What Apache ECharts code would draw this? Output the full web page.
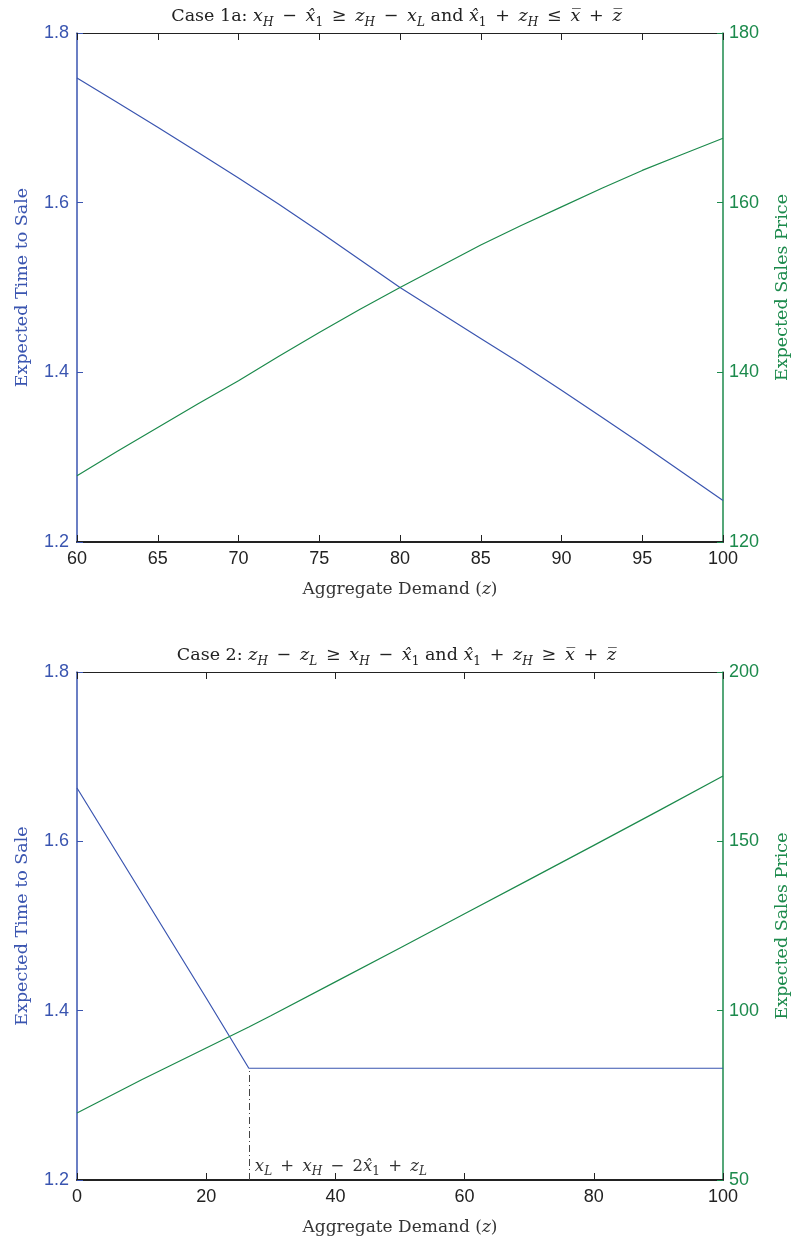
<!DOCTYPE html>
<html>
<head>
<meta charset="utf-8">
<script src="https://cdn.jsdelivr.net/npm/echarts@6/dist/echarts.min.js"></script>
<style>
  html, body { margin: 0; padding: 0; background: #fff; overflow: hidden; }
  #chart { width: 793px; height: 1243px; }
</style>
</head>
<body>
<div id="chart"></div>
<script>
// Case 1a: demand range 60..100
const case1Demand = [60, 62.5, 65, 67.5, 70, 72.5, 75, 77.5, 80, 82.5, 85, 87.5, 90, 92.5, 95, 97.5, 100];
const case1Time   = [1.747, 1.718, 1.689, 1.659, 1.629, 1.598, 1.566, 1.533, 1.500, 1.470, 1.440, 1.410, 1.379, 1.347, 1.315, 1.282, 1.249];
const case1Price  = [127.8, 130.7, 133.5, 136.3, 139.0, 141.9, 144.7, 147.4, 150.0, 152.5, 155.0, 157.3, 159.5, 161.7, 163.8, 165.7, 167.6];

// Case 2: demand range 0..100, time to sale flattens past the threshold
const case2Demand = [0, 10, 20, 26.6, 30, 40, 50, 60, 70, 80, 90, 100];
const case2Time   = [1.663, 1.539, 1.415, 1.332, 1.332, 1.332, 1.332, 1.332, 1.332, 1.332, 1.332, 1.332];
const case2Price  = [69.8, 79.6, 89.0, 95.2, 98.5, 108.5, 118.5, 128.6, 138.7, 148.8, 159.0, 169.3];
const case2Threshold = 26.6;

const BLUE = '#3a55b0';
const GREEN = '#1c8a4c';
const SERIF = '"DejaVu Serif", "Liberation Serif", serif';
const SANS = '"Liberation Sans", Arial, sans-serif';

const pairs = (xs, ys) => xs.map((x, i) => [x, ys[i]]);

function mathStyles(size, color) {
  const sub = Math.round(size * 0.7);
  return {
    r: { fontFamily: SERIF, fontSize: size, fontWeight: 'normal', color, lineHeight: size + 6 },
    i: { fontFamily: SERIF, fontSize: size, fontWeight: 'normal', fontStyle: 'italic', color, lineHeight: size + 6 },
    s: { fontFamily: SERIF, fontSize: sub, fontWeight: 'normal', fontStyle: 'italic', color, verticalAlign: 'bottom', lineHeight: sub + 3 },
    n: { fontFamily: SERIF, fontSize: sub, fontWeight: 'normal', color, verticalAlign: 'bottom', lineHeight: sub + 3 }
  };
}

// en spaces give operators roughly the width of typeset math spacing
const sp = '\u2002';
const op = o => `{r|${sp}${o}${sp}}`;
const title1 = '{r|Case 1a: }{i|x}{s|H}' + op('−') + '{i|x\u0302}{n|1}' + op('≥') + '{i|z}{s|H}' + op('−') + '{i|x}{s|L}{r| and }{i|x\u0302}{n|1}' + op('+') + '{i|z}{s|H}' + op('≤') + '{i|x\u0305}' + op('+') + '{i|z\u0305}';
const title2 = '{r|Case 2: }{i|z}{s|H}' + op('−') + '{i|z}{s|L}' + op('≥') + '{i|x}{s|H}' + op('−') + '{i|x\u0302}{n|1}{r| and }{i|x\u0302}{n|1}' + op('+') + '{i|z}{s|H}' + op('≥') + '{i|x\u0305}' + op('+') + '{i|z\u0305}';
const thresholdText = '{i|x}{s|L}' + op('+') + '{i|x}{s|H}' + op('−') + '{r|2}{i|x\u0302}{n|1}' + op('+') + '{i|z}{s|L}';

const xName = '{r|Aggregate Demand (}{i|z}{r|)}';

function bottomX(gridIndex, min, max, interval) {
  return {
    type: 'value', gridIndex, position: 'bottom', min, max, interval,
    name: xName, nameLocation: 'middle', nameGap: 36,
    nameTextStyle: { rich: mathStyles(17, '#333') },
    axisLine: { show: true, onZero: false, lineStyle: { color: '#222', width: 2 } },
    axisTick: { show: true, inside: true, length: 7, lineStyle: { color: '#222', width: 1 } },
    axisLabel: { color: '#222', fontFamily: SANS, fontSize: 18, margin: 8 },
    splitLine: { show: false }
  };
}
function topX(gridIndex, min, max, interval) {
  return {
    type: 'value', gridIndex, position: 'top', min, max, interval,
    axisLine: { show: true, onZero: false, lineStyle: { color: '#222', width: 1 } },
    axisTick: { show: true, inside: true, length: 7, lineStyle: { color: '#222', width: 1 } },
    axisLabel: { show: false },
    splitLine: { show: false }
  };
}
function leftY(gridIndex) {
  return {
    type: 'value', gridIndex, position: 'left', min: 1.2, max: 1.8, interval: 0.2,
    name: 'Expected Time to Sale', nameLocation: 'middle', nameGap: 46,
    nameTextStyle: { color: BLUE, fontFamily: SERIF, fontSize: 17.5 },
    axisLine: { show: true, onZero: false, lineStyle: { color: BLUE, width: 1.5 } },
    axisTick: { show: true, inside: true, length: 6, lineStyle: { color: BLUE } },
    axisLabel: { color: BLUE, fontFamily: SANS, fontSize: 18, margin: 8, formatter: v => v.toFixed(1) },
    splitLine: { show: false }
  };
}
function rightY(gridIndex, min, max, interval) {
  return {
    type: 'value', gridIndex, position: 'right', min, max, interval,
    name: 'Expected Sales Price', nameLocation: 'middle', nameGap: 50, nameRotate: 90,
    nameTextStyle: { color: GREEN, fontFamily: SERIF, fontSize: 17.5 },
    axisLine: { show: true, onZero: false, lineStyle: { color: GREEN, width: 1.5 } },
    axisTick: { show: true, inside: true, length: 6, lineStyle: { color: GREEN } },
    axisLabel: { color: GREEN, fontFamily: SANS, fontSize: 18, margin: 6 },
    splitLine: { show: false }
  };
}

const lineSeries = (xAxisIndex, yAxisIndex, data, color) => ({
  type: 'line', xAxisIndex, yAxisIndex, data, showSymbol: false, symbol: 'none',
  lineStyle: { color, width: 1.2 }, animation: false, z: 3
});

const chart = echarts.init(document.getElementById('chart'), null, { renderer: 'canvas', width: 793, height: 1243 });

chart.setOption({
  backgroundColor: '#fff',
  animation: false,
  title: [
    { text: title1, left: 'center', top: 0, textStyle: { rich: mathStyles(17.5, '#222') } },
    { text: title2, left: 'center', top: 639, textStyle: { rich: mathStyles(17.5, '#222') } }
  ],
  grid: [
    { left: 77, width: 646, top: 33, height: 509, containLabel: false, outerBoundsMode: 'none' },
    { left: 77, width: 646, top: 672, height: 508, containLabel: false, outerBoundsMode: 'none' }
  ],
  xAxis: [
    bottomX(0, 60, 100, 5),
    topX(0, 60, 100, 5),
    bottomX(1, 0, 100, 20),
    topX(1, 0, 100, 20)
  ],
  yAxis: [
    leftY(0),
    rightY(0, 120, 180, 20),
    leftY(1),
    rightY(1, 50, 200, 50)
  ],
  series: [
    lineSeries(0, 0, pairs(case1Demand, case1Time), BLUE),
    lineSeries(0, 1, pairs(case1Demand, case1Price), GREEN),
    Object.assign(lineSeries(2, 2, pairs(case2Demand, case2Time), BLUE), {
      markLine: {
        silent: true, symbol: ['none', 'none'], animation: false,
        lineStyle: { color: '#444', width: 1, type: [7, 3, 1, 3] },
        label: { show: false },
        data: [[
          { coord: [case2Threshold, 1.2] },
          { coord: [case2Threshold, case2Time[3]] }
        ]]
      },
      markPoint: {
        silent: true, symbol: 'circle', symbolSize: 0, animation: false,
        label: {
          show: true, position: 'right', distance: 6, offset: [0, -13],
          formatter: thresholdText, rich: mathStyles(16.5, '#333')
        },
        data: [{ coord: [case2Threshold, 1.2] }]
      }
    }),
    lineSeries(2, 3, pairs(case2Demand, case2Price), GREEN)
  ]
});
</script>
</body>
</html>
